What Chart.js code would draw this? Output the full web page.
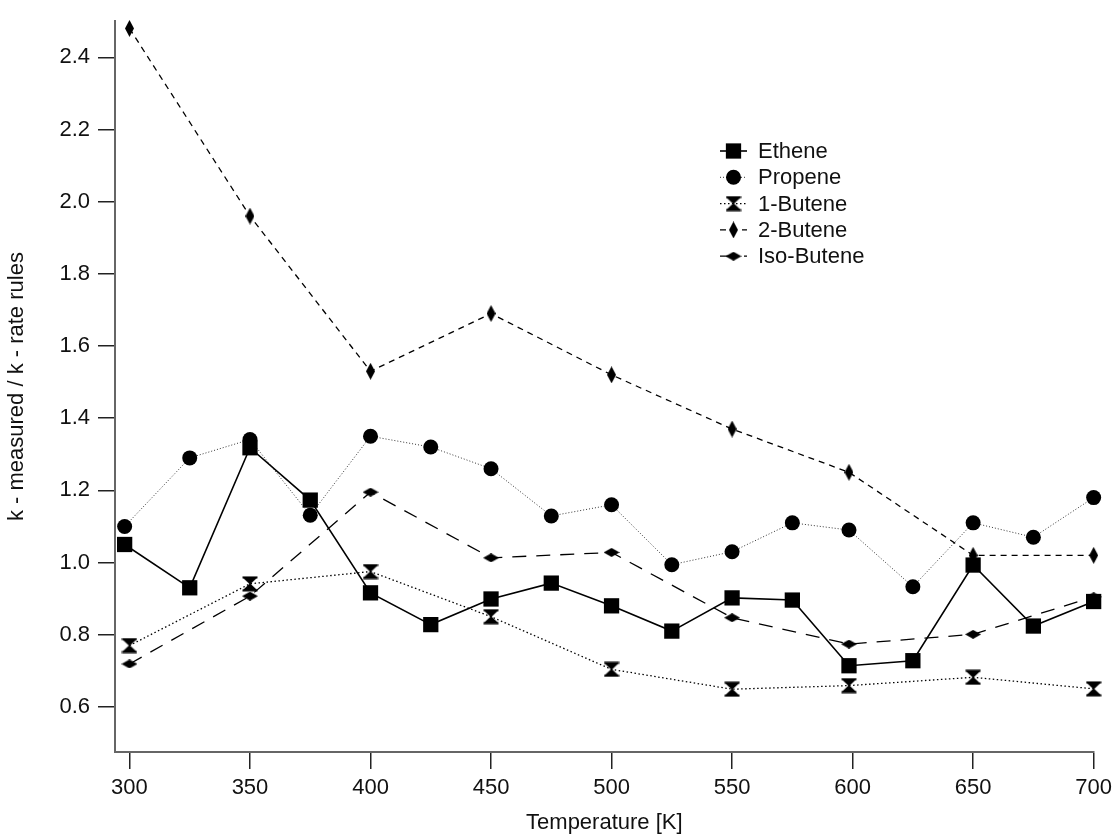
<!DOCTYPE html>
<html>
<head>
<meta charset="utf-8">
<script src="https://cdn.jsdelivr.net/npm/chart.js@4.4.1/dist/chart.umd.min.js"></script>
<style>
  html, body { margin: 0; padding: 0; background: #fff; }
  canvas { display: block; }
</style>
</head>
<body>
<canvas id="ratios" width="1118" height="837"></canvas>
<script>
// temperatures [K]
const fineTemps = [298, 325, 350, 375, 400, 425, 450, 475, 500, 525, 550, 575, 598.5, 625, 650, 675, 700];
const coarseTemps = [300, 350, 400, 450, 500, 550, 598.5, 650, 700];

// k measured / k from rate rules
const ethene = [1.05, 0.93, 1.318, 1.173, 0.916, 0.828, 0.899, 0.943, 0.880, 0.810, 0.902, 0.896, 0.714, 0.728, 0.993, 0.824, 0.892];
const propene = [1.10, 1.29, 1.341, 1.131, 1.35, 1.32, 1.26, 1.129, 1.16, 0.994, 1.03, 1.11, 1.09, 0.933, 1.11, 1.07, 1.18];
const butene1 = [0.770, 0.941, 0.975, 0.850, 0.704, 0.649, 0.659, 0.682, 0.650];
const butene2 = [2.48, 1.96, 1.53, 1.69, 1.52, 1.37, 1.25, 1.02, 1.02];
const isoButene = [0.719, 0.907, 1.195, 1.013, 1.028, 0.847, 0.774, 0.801, 0.905];

Chart.defaults.font.family = "'Liberation Sans', Arial, sans-serif";
Chart.defaults.color = '#111';

// small canvas markers for the butene series
function marker(w, h, shape) {
  const c = document.createElement('canvas');
  c.width = w;
  c.height = h;
  const ctx = c.getContext('2d');
  ctx.fillStyle = '#000';
  shape(ctx, w, h);
  return c;
}

// hourglass: two triangles tip to tip, with flat bars top and bottom
const hourglass = marker(16, 16, (ctx, w, h) => {
  ctx.fillRect(0.5, 0.5, w - 1, 2);
  ctx.fillRect(0.5, h - 2.5, w - 1, 2);
  ctx.beginPath();
  ctx.moveTo(1, 2); ctx.lineTo(w - 1, 2); ctx.lineTo(w / 2 + 0.6, h / 2); ctx.lineTo(w / 2 - 0.6, h / 2);
  ctx.closePath(); ctx.fill();
  ctx.beginPath();
  ctx.moveTo(1, h - 2); ctx.lineTo(w - 1, h - 2); ctx.lineTo(w / 2 + 0.6, h / 2); ctx.lineTo(w / 2 - 0.6, h / 2);
  ctx.closePath(); ctx.fill();
});

const tallDiamond = marker(9, 17, (ctx, w, h) => {
  ctx.beginPath();
  ctx.moveTo(w / 2, 0); ctx.lineTo(w, h / 2); ctx.lineTo(w / 2, h); ctx.lineTo(0, h / 2);
  ctx.closePath(); ctx.fill();
});

const flatDiamond = marker(16, 9, (ctx, w, h) => {
  ctx.beginPath();
  ctx.moveTo(0, h / 2); ctx.lineTo(w / 2, 0); ctx.lineTo(w, h / 2); ctx.lineTo(w / 2, h);
  ctx.closePath(); ctx.fill();
});

const pts = (xs, ys) => xs.map((x, i) => ({ x, y: ys[i] }));

function series(label, xs, ys, style) {
  return Object.assign({
    label,
    data: pts(xs, ys),
    borderColor: '#000',
    backgroundColor: '#000',
    pointBackgroundColor: '#000',
    pointBorderColor: '#000',
    pointBorderWidth: 0,
    borderWidth: 1.3,
    tension: 0,
    fill: false,
    clip: false
  }, style);
}

const datasets = [
  series('Ethene', fineTemps, ethene, { pointStyle: 'rect', pointRadius: 10.8, borderWidth: 1.6, borderDash: [] }),
  series('Propene', fineTemps, propene, { pointStyle: 'circle', pointRadius: 7.5, borderWidth: 1, borderDash: [1, 2], borderColor: '#333' }),
  series('1-Butene', coarseTemps, butene1, { pointStyle: hourglass, pointRadius: 8, borderDash: [1.5, 2.5] }),
  series('2-Butene', coarseTemps, butene2, { pointStyle: tallDiamond, pointRadius: 8, borderDash: [6, 5] }),
  series('Iso-Butene', coarseTemps, isoButene, { pointStyle: flatDiamond, pointRadius: 8, borderDash: [14, 10] })
];

// legend box inside the plot, upper right
const legendBox = {
  id: 'legendBox',
  afterDraw(chart) {
    const ctx = chart.ctx;
    ctx.save();
    chart.data.datasets.forEach((ds, i) => {
      const y = 151 + i * 26.3;
      ctx.strokeStyle = ds.borderColor;
      ctx.lineWidth = ds.borderWidth;
      ctx.setLineDash(ds.borderDash || []);
      ctx.beginPath();
      ctx.moveTo(720, y);
      ctx.lineTo(747, y);
      ctx.stroke();
      ctx.setLineDash([]);
      ctx.fillStyle = '#000';
      ctx.strokeStyle = '#000';
      Chart.helpers.drawPoint(ctx, {
        pointStyle: ds.pointStyle,
        radius: ds.pointRadius,
        rotation: 0,
        borderWidth: 0
      }, 733.5, y);
      ctx.fillStyle = '#111';
      ctx.font = "22px 'Liberation Sans', Arial, sans-serif";
      ctx.textBaseline = 'middle';
      ctx.textAlign = 'left';
      ctx.fillText(ds.label, 758, y + 1);
    });
    ctx.restore();
  }
};

new Chart(document.getElementById('ratios'), {
  type: 'line',
  data: { datasets },
  options: {
    responsive: false,
    animation: false,
    layout: { padding: { top: 13, right: 22, left: 0, bottom: 0 } },
    plugins: {
      legend: { display: false },
      tooltip: { enabled: false }
    },
    scales: {
      x: {
        type: 'linear',
        min: 294,
        max: 700,
        border: { color: '#666', width: 2 },
        grid: { drawOnChartArea: false, tickLength: 17, color: '#222', lineWidth: 1.5 },
        ticks: {
          stepSize: 50,
          includeBounds: false,
          padding: 6,
          maxRotation: 0,
          autoSkip: false,
          font: { size: 22 },
          callback: v => String(v)
        },
        title: {
          display: true,
          text: 'Temperature [K]',
          font: { size: 22 },
          color: '#111',
          padding: { top: 0, bottom: 1 }
        },
        afterFit(scale) { scale.height = 85; }
      },
      y: {
        type: 'linear',
        min: 0.475,
        max: 2.5,
        border: { color: '#666', width: 2 },
        grid: { drawOnChartArea: false, tickLength: 17, color: '#222', lineWidth: 1.5 },
        ticks: {
          stepSize: 0.2,
          includeBounds: false,
          padding: 8,
          font: { size: 22 },
          callback: v => v.toFixed(1)
        },
        title: {
          display: true,
          text: 'k - measured / k - rate rules',
          font: { size: 22 },
          color: '#111',
          padding: { top: 4, bottom: 0 }
        },
        afterFit(scale) { scale.width = 115; }
      }
    }
  },
  plugins: [legendBox]
});
</script>
</body>
</html>
